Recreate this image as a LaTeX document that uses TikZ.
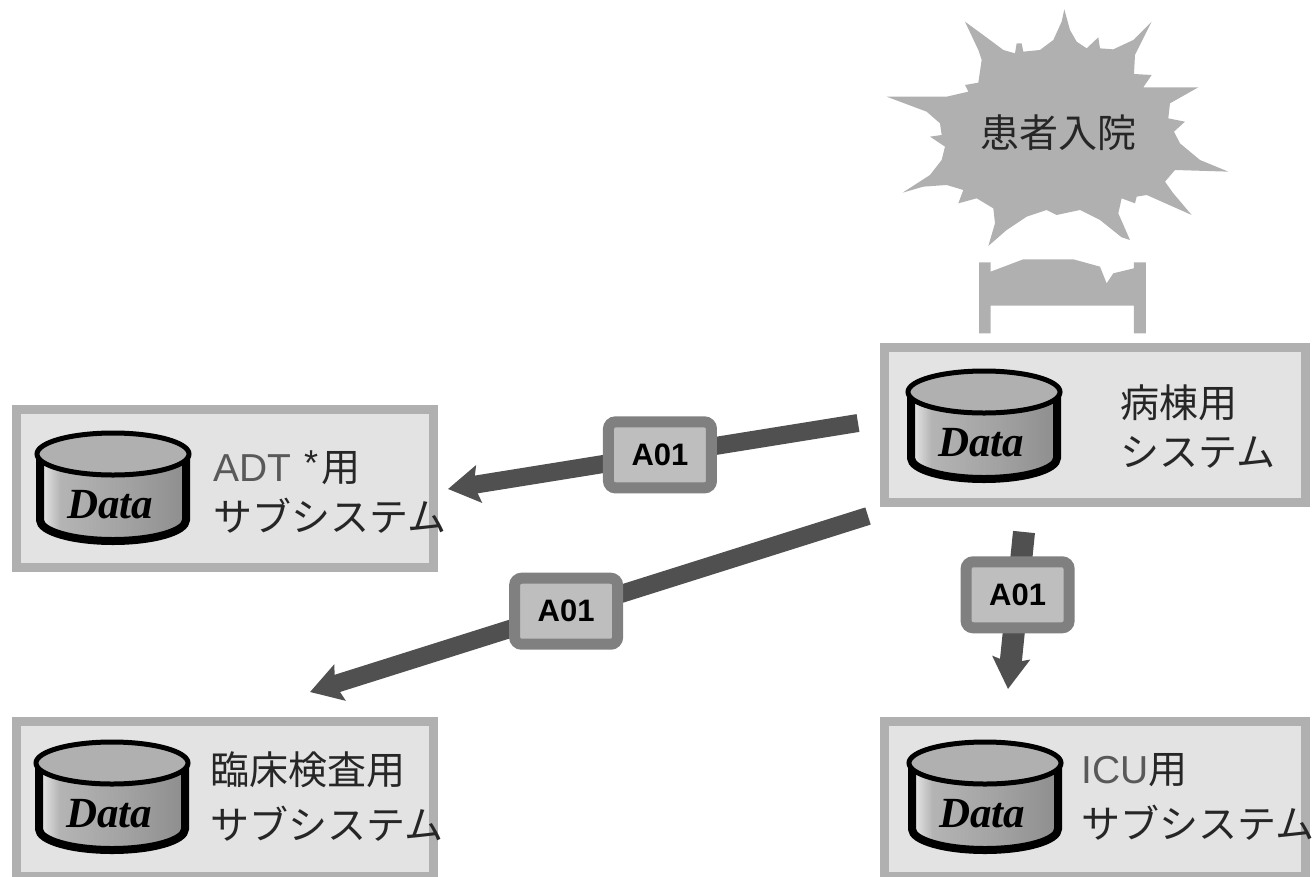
\documentclass[tikz,border=0pt]{standalone}
\usepackage{fontspec}
\setmainfont{Noto Sans CJK JP}
\newfontfamily\datafont{Liberation Serif}
\newfontfamily\msgfont{Liberation Sans}
\usetikzlibrary{arrows.meta}
\definecolor{framegray}{HTML}{B0B0B0}
\definecolor{panelgray}{HTML}{E3E3E3}
\definecolor{arrowgray}{HTML}{505050}
\definecolor{msgedge}{HTML}{808080}
\definecolor{msgfill}{HTML}{BEBEBE}
\definecolor{cyla}{HTML}{ECECEC}
\definecolor{cylb}{HTML}{B4B4B4}
\definecolor{cylc}{HTML}{A2A2A2}
\definecolor{cyld}{HTML}{8E8E8E}
\pgfdeclarehorizontalshading{cylbody}{100bp}{color(0bp)=(cyla); color(25bp)=(cyla); color(32bp)=(cylb); color(55bp)=(cylc); color(75bp)=(cyld); color(100bp)=(cyld)}
\tikzset{
  sysbox/.style={draw=framegray,fill=panelgray,line width=9pt,minimum height=155pt},
  systext/.style={anchor=west,inner sep=0pt,align=left,text=black!85,font=\fontsize{39}{#1}\selectfont},
  msgbox/.style={draw=msgedge,fill=msgfill,line width=11pt,rounded corners=7pt,minimum width=103pt,minimum height=66pt,inner sep=0pt,font=\msgfont\bfseries\fontsize{31}{31}\selectfont},
  msgarrow/.style={draw=arrowgray,line width=#1,-{Stealth[length=31pt,width=37pt,inset=5pt]}},
  datacyl/.pic={
    \path[draw=black,line width=8pt,shading=cylbody] (-73,0) -- (-73,66) arc[start angle=180,end angle=0,x radius=73,y radius=21] -- (73,0) -- cycle;
    \draw[black,fill=framegray,line width=5pt] (0,0) ellipse[x radius=76,y radius=21];
    \node[font=\datafont\bfseries\itshape\fontsize{43}{43}\selectfont,inner sep=0pt] (-label) at (-3,51) {Data};
  }
}
\begin{document}
\begin{tikzpicture}[x=1pt,y=-1pt]
\path[use as bounding box,clip] (0,0) rectangle (1314,876);
\begin{scope}[shift={(880,0)},scale=0.3333]
\fill[framegray] (553,28) -- (570,90) -- (590,125) -- (620,145) -- (655,112) -- (660,145) -- (700,148) -- (760,120) -- (815,65) -- (765,165) -- (762,222) -- (815,225) -- (790,262) -- (955,262) -- (870,310) -- (865,355) -- (915,365) -- (882,395) -- (900,430) -- (960,480) -- (1045,515) -- (885,510) -- (855,545) -- (880,580) -- (935,645) -- (800,585) -- (770,590) -- (765,610) -- (725,595) -- (715,640) -- (750,720) -- (725,712) -- (660,660) -- (600,630) -- (530,645) -- (500,630) -- (440,650) -- (380,690) -- (325,738) -- (345,670) -- (340,625) -- (290,595) -- (235,610) -- (250,570) -- (200,555) -- (130,560) -- (68,578) -- (150,525) -- (185,480) -- (195,440) -- (150,410) -- (185,405) -- (180,370) -- (140,335) -- (20,290) -- (200,290) -- (265,275) -- (255,255) -- (295,248) -- (305,180) -- (295,150) -- (255,65) -- (330,120) -- (370,150) -- (405,160) -- (410,130) -- (425,130) -- (430,155) -- (480,150) -- (520,120) -- (545,65) -- cycle;
\fill[framegray] (297,787) -- (332,787) -- (332,815) -- (430,778) -- (580,778) -- (660,800) -- (680,850) -- (700,820) -- (762,805) -- (762,787) -- (798,787) -- (798,1000) -- (762,1000) -- (762,917) -- (332,917) -- (332,1000) -- (297,1000) -- cycle;
\end{scope}
\node[inner sep=0pt,font=\fontsize{39}{39}\selectfont,text=black!85] (admit) at (1058,133) {患者入院};
\node[sysbox,minimum width=421pt] (ward) at (1095,425) {};
\node[sysbox,minimum width=417pt,minimum height=158pt] (adt) at (225,488.5) {};
\node[sysbox,minimum width=417pt] (lab) at (225,799) {};
\node[sysbox,minimum width=421pt] (icu) at (1095,799) {};
\pic (wardcyl) at (984,392) {datacyl};
\pic (adtcyl) at (113,454) {datacyl};
\pic (labcyl) at (112,763) {datacyl};
\pic (icucyl) at (985,763) {datacyl};
\node[systext=49] (wardtext) at (1120,427) {病棟用\\システム};
\node[systext=50] (adttext) at (213,492) {{\msgfont\color{black!65}ADT}\hspace{13pt}\raisebox{6pt}{\msgfont\fontsize{36}{36}\selectfont *}\hspace{3pt}用\\サブシステム};
\node[systext=55] (labtext) at (210,797) {臨床検査用\\サブシステム};
\node[systext=55] (icutext) at (1081,797) {{\msgfont\color{black!65}ICU}用\\サブシステム};
\coordinate (wardA) at (858,423);
\coordinate (adtA) at (448,489);
\coordinate (wardB) at (868,516);
\coordinate (labB) at (310,692);
\coordinate (wardC) at (1024,532);
\coordinate (icuC) at (1008,689);
\draw[msgarrow=18pt] (wardA) -- (adtA) node[pos=0.483,msgbox] (msgadt) {A01};
\draw[msgarrow=18pt] (wardB) -- (labB) node[pos=0.541,msgbox] (msglab) {A01};
\draw[msgarrow=22pt] (wardC) -- (icuC) node[pos=0.40,msgbox] (msgicu) {A01};
\end{tikzpicture}
\end{document}
